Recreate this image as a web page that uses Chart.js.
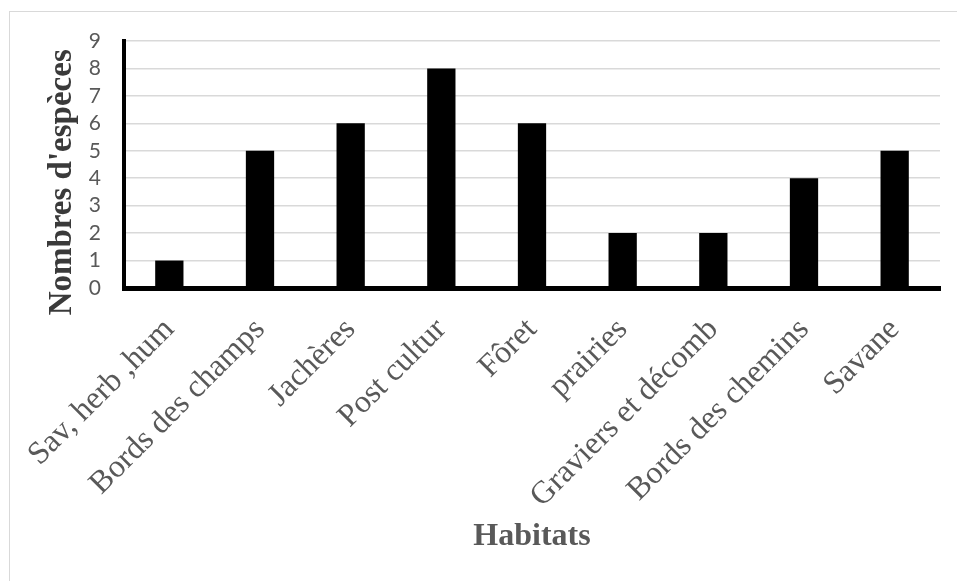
<!DOCTYPE html>
<html lang="fr">
<head>
<meta charset="utf-8">
<title>Nombres d'espèces par habitat</title>
<script src="https://cdn.jsdelivr.net/npm/chart.js@4/dist/chart.umd.min.js"></script>
<style>
  html, body { margin: 0; padding: 0; background: #fff; overflow: hidden; }
  #wrap { position: relative; width: 957px; height: 581px; overflow: hidden; }
  #frame {
    position: absolute; left: 9px; top: 11px; width: 1200px; height: 1200px;
    border-left: 1.5px solid #d9d9d9; border-top: 1.5px solid #d9d9d9;
    box-sizing: border-box;
  }
  #chart { position: absolute; left: 0; top: 0; }
</style>
</head>
<body>
<div id="wrap">
  <div id="frame"></div>
  <canvas id="chart" width="957" height="581"></canvas>
</div>
<script>
// Habitat categories and the number of species recorded in each
const habitats = [
  "Sav, herb ,hum",
  "Bords des champs",
  "Jachères",
  "Post cultur",
  "Fôret",
  "prairies",
  "Graviers et décomb",
  "Bords des chemins",
  "Savane"
];
const especes = [1, 5, 6, 8, 6, 2, 2, 4, 5];
const yTicks = [0, 1, 2, 3, 4, 5, 6, 7, 8, 9];

const yTitle = "Nombres d'espèces";
const xTitle = "Habitats";

const grey = "#595959";

new Chart(document.getElementById("chart"), {
  type: "bar",
  data: {
    labels: habitats,
    datasets: [{
      data: especes,
      backgroundColor: "#000000",
      borderWidth: 0,
      categoryPercentage: 1,
      barPercentage: 0.312
    }]
  },
  options: {
    responsive: false,
    animation: false,
    devicePixelRatio: 1,
    layout: { padding: { top: 41, right: 17, bottom: 0, left: 0 } },
    plugins: {
      legend: { display: false },
      tooltip: { enabled: false },
      title: { display: false }
    },
    scales: {
      x: {
        grid: { display: false, drawTicks: false },
        border: { display: true, color: "#000000", width: 5 },
        ticks: {
          autoSkip: false,
          minRotation: 45,
          maxRotation: 45,
          padding: 23,
          color: grey,
          font: { family: "'Liberation Serif', 'Times New Roman', serif", size: 32 }
        },
        title: {
          display: true,
          text: xTitle,
          color: grey,
          padding: { top: 0, bottom: 25 },
          font: { family: "'Liberation Serif', 'Times New Roman', serif", size: 32, weight: "bold" }
        },
        afterFit: (scale) => { scale.height = 293; }
      },
      y: {
        min: 0,
        max: 9,
        afterBuildTicks: (scale) => { scale.ticks = yTicks.map(v => ({ value: v })); },
        grid: {
          color: (ctx) => (ctx.tick && ctx.tick.value === 0 ? "rgba(0,0,0,0)" : "#d9d9d9"),
          lineWidth: 1.5,
          drawTicks: false
        },
        border: { display: true, color: "#000000", width: 4 },
        ticks: {
          autoSkip: false,
          padding: 23,
          color: grey,
          font: { family: "Lato, 'Open Sans', sans-serif", size: 21 }
        },
        title: {
          display: true,
          text: yTitle + " ",
          align: "end",
          color: "#3a3a3a",
          padding: { top: 43, bottom: 0 },
          font: { family: "'Liberation Serif', 'Times New Roman', serif", size: 33, weight: "bold" }
        },
        afterFit: (scale) => { scale.width = 124; }
      }
    }
  }
});
</script>
</body>
</html>
